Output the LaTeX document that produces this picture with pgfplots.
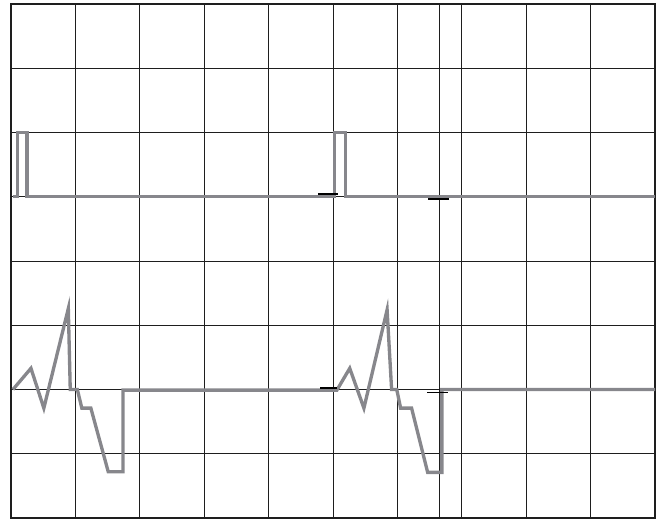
\documentclass[border=0pt]{standalone}
\usepackage{pgfplots}
\pgfplotsset{compat=1.18}
\definecolor{trace}{RGB}{135,135,140}
\definecolor{gridc}{RGB}{30,30,30}
\begin{document}
\begin{tikzpicture}
\useasboundingbox (-8.25pt,-0.75pt) rectangle (489pt,388.5pt);
\begin{axis}[
  at={(0,0)}, anchor=south west,
  scale only axis, width=483pt, height=385.5pt,
  xmin=0, xmax=10, ymin=0, ymax=8,
  xtick={0,...,10}, ytick={0,...,8},
  xticklabels={}, yticklabels={},
  major tick length=0pt,
  grid=major,
  grid style={gridc, line width=0.75pt},
  axis line style={gridc, line width=1.9pt},
]
\addplot[gridc, line width=0.75pt] coordinates {(6.65,0) (6.65,8)};
\addplot[trace, line width=2.5pt] coordinates {
(0.03,5) (0.10,5) (0.10,6) (0.25,6) (0.25,5) (5.02,5) (5.02,6) (5.19,6) (5.19,5) (10,5)};
\addplot[trace, line width=2.5pt] coordinates {
(0.03,2.0) (0.31,2.33) (0.51,1.71) (0.89,3.26) (0.92,2.0) (1.03,2.0) (1.10,1.71) (1.24,1.71) (1.51,0.72) (1.74,0.72) (1.74,1.99) (5.06,1.99) (5.26,2.33) (5.48,1.71) (5.84,3.24) (5.91,2.0) (5.99,2.0) (6.05,1.71) (6.22,1.71) (6.47,0.71) (6.69,0.71) (6.69,2.0) (10,2.0)};
\addplot[black, line width=1.5pt] coordinates {(4.77,5.04) (5.08,5.04)};
\addplot[black, line width=1.5pt] coordinates {(6.48,4.96) (6.80,4.96)};
\addplot[black, line width=1.5pt] coordinates {(4.80,2.03) (5.06,2.03)};
\addplot[black, line width=0.9pt] coordinates {(6.46,1.95) (6.79,1.95)};
\end{axis}
\end{tikzpicture}
\end{document}
